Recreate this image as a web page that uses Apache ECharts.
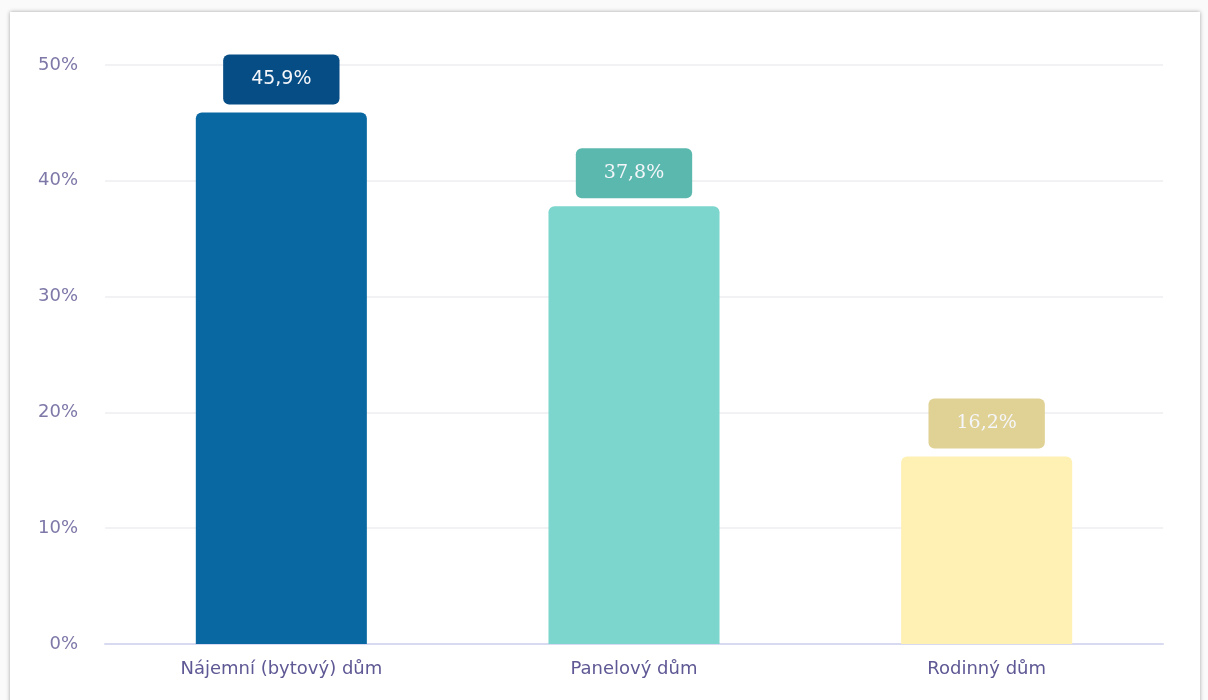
<!DOCTYPE html>
<html>
<head>
<meta charset="utf-8">
<script src="https://cdn.jsdelivr.net/npm/echarts@6/dist/echarts.min.js"></script>
<style>
html,body{margin:0;padding:0;background:#fafafa;width:1208px;height:700px;overflow:hidden;}
.card{position:absolute;left:10px;top:12px;width:1190px;height:740px;background:#fff;
  box-shadow:0 0 4px rgba(0,0,0,0.35);}
#chart{position:absolute;left:0;top:0;width:1208px;height:700px;}
</style>
</head>
<body>
<div class="card"></div>
<div id="chart"></div>
<script>
var categories = ['Nájemní (bytový) dům', 'Panelový dům', 'Rodinný dům'];
var values = [45.9, 37.8, 16.2];
var barColors = ['#0968A2', '#7DD6CD', '#FFF0B4'];
var labelColors = ['#064D85', '#5BB8AE', '#E0D195'];
var labelFonts = ['DejaVu Sans', 'DejaVu Serif', 'DejaVu Serif'];
var yTicks = [0, 10, 20, 30, 40, 50];

var myChart = echarts.init(document.getElementById('chart'));
var option = {
    backgroundColor: 'transparent',
    grid: { left: 105, right: 45, top: 65, bottom: 56 },
    xAxis: {
        type: 'category',
        data: categories,
        axisLine: { lineStyle: { color: '#D8DAF2', width: 2 } },
        axisTick: { show: false },
        axisLabel: { color: '#5E5894', fontSize: 18, fontFamily: 'DejaVu Sans', margin: 16 }
    },
    yAxis: {
        type: 'value',
        min: yTicks[0],
        max: yTicks[yTicks.length - 1],
        interval: 10,
        axisLine: { show: false },
        axisTick: { show: false },
        axisLabel: { color: '#7D78A8', fontSize: 18, fontFamily: 'DejaVu Sans', margin: 27, formatter: '{value}%' },
        splitLine: { lineStyle: { color: '#EEEEF2', width: 1.5 } }
    },
    series: [{
        type: 'bar',
        barWidth: '48.5%',
        data: values.map(function (v, i) {
            return {
                value: v,
                itemStyle: { color: barColors[i], borderRadius: [6, 6, 0, 0] },
                label: {
                    backgroundColor: labelColors[i],
                    fontFamily: labelFonts[i]
                }
            };
        }),
        label: {
            show: true,
            position: 'top',
            distance: 8,
            color: '#F4F6FA',
            fontSize: 19,
            lineHeight: 22,
            borderRadius: 6,
            padding: [14, 28],
            formatter: function (p) { return p.value.toFixed(1).replace('.', ',') + '%'; }
        }
    }]
};
myChart.setOption(option);
</script>
</body>
</html>
